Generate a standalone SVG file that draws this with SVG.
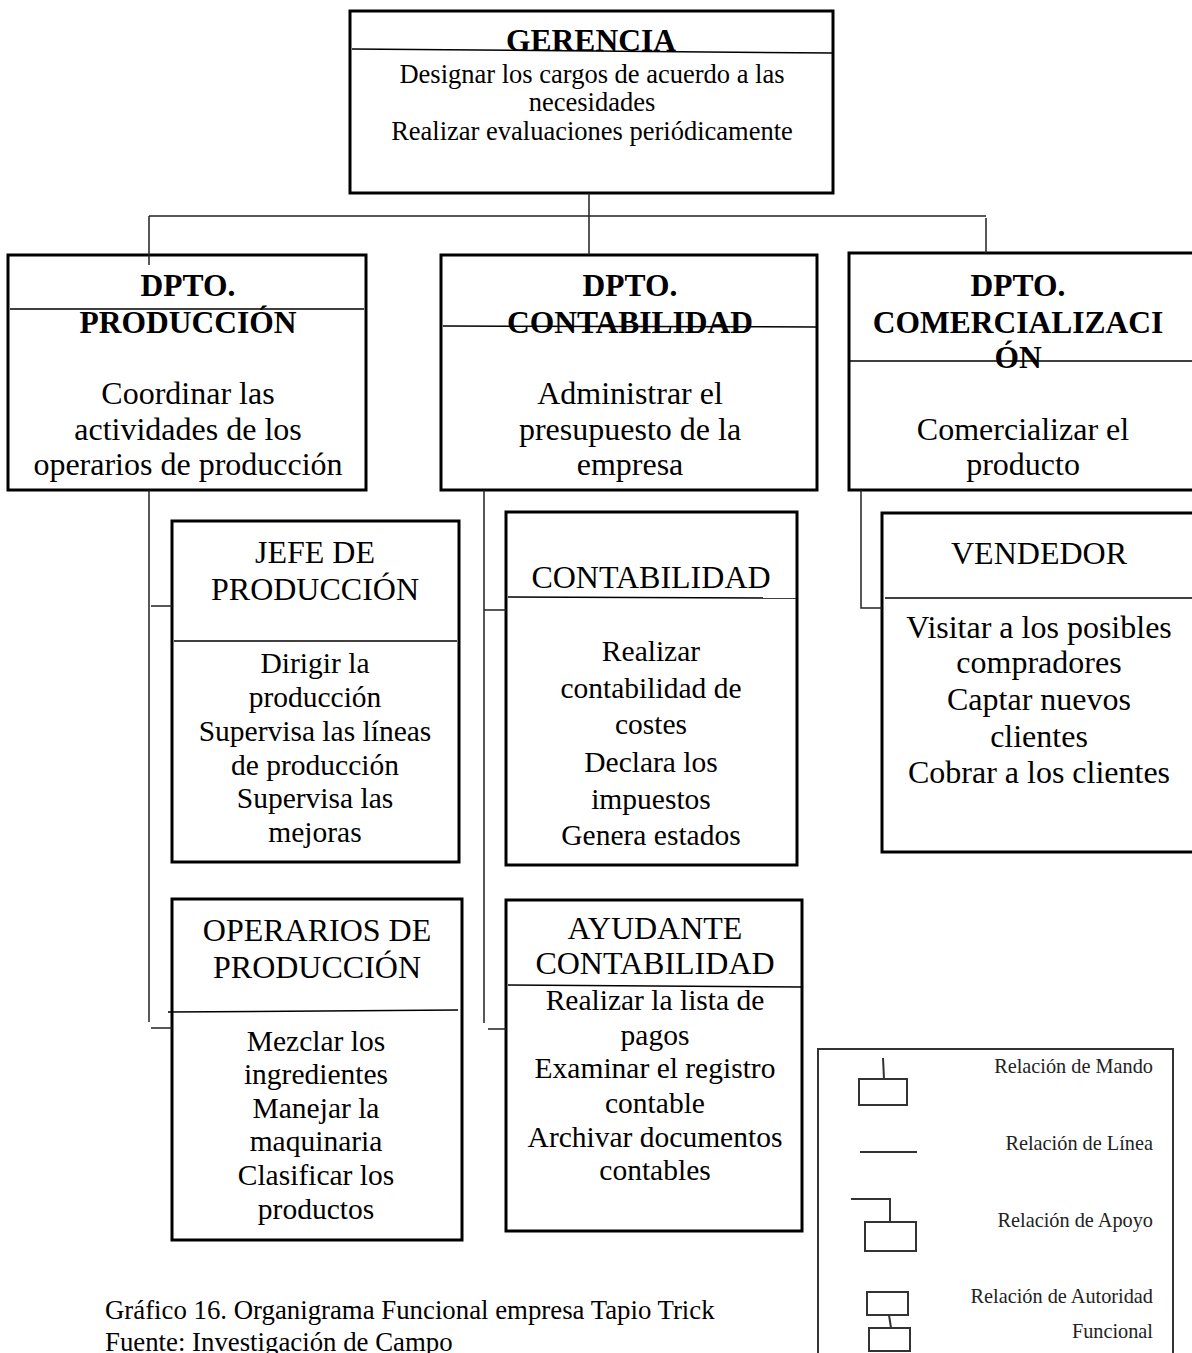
<svg xmlns="http://www.w3.org/2000/svg" width="1192" height="1353" viewBox="0 0 1192 1353">
<style>
.box{fill:#fff;stroke:#000;stroke-width:3}
.dv{stroke:#000;stroke-width:1.5;fill:none}
.conn{stroke:#222;stroke-width:1.5;fill:none}
.lgs{fill:none;stroke:#333;stroke-width:2}
text{font-family:"Liberation Serif","Times New Roman",serif;fill:#000;text-anchor:middle}
.b{font-weight:bold;font-size:31.5px}
.m{font-size:32px}
.s{font-size:29.5px}
.g{font-size:26.5px}
.cap{font-size:26.8px;text-anchor:start}
.lg{font-size:20.3px;text-anchor:end;fill:#222}
</style>
<rect width="1192" height="1353" fill="#fff"/>

<g id="gerencia">
<rect class="box" x="350" y="11" width="483" height="182"/>
<text class="b" x="591" y="51">GERENCIA</text>
<line class="dv" x1="352" y1="49" x2="833" y2="53"/>
<text class="g" x="592" y="83">Designar los cargos de acuerdo a las</text>
<text class="g" x="592" y="111">necesidades</text>
<text class="g" x="592" y="140">Realizar evaluaciones periódicamente</text>
</g>

<g id="dpto-produccion">
<rect class="box" x="8" y="255" width="358" height="235"/>
<line class="dv" x1="10" y1="309" x2="364" y2="309"/>
<text class="b" x="188" y="296">DPTO.</text>
<text class="b" x="188" y="333">PRODUCCIÓN</text>
<text class="m" x="188" y="404">Coordinar las</text>
<text class="m" x="188" y="440">actividades de los</text>
<text class="m" x="188" y="475">operarios de producción</text>
</g>

<g id="dpto-contabilidad">
<rect class="box" x="441" y="255" width="376" height="235"/>
<text class="b" x="630" y="296">DPTO.</text>
<text class="b" x="630" y="333">CONTABILIDAD</text>
<line class="dv" x1="443" y1="326" x2="817" y2="327"/>
<text class="m" x="630" y="404">Administrar el</text>
<text class="m" x="630" y="440">presupuesto de la</text>
<text class="m" x="630" y="475">empresa</text>
</g>

<g id="dpto-comercializacion">
<rect class="box" x="849" y="253" width="360" height="237"/>
<text class="b" x="1018" y="296">DPTO.</text>
<text class="b" x="1018" y="333">COMERCIALIZACI</text>
<text class="b" x="1018" y="368">ÓN</text>
<line class="dv" x1="849" y1="361" x2="1192" y2="361"/>
<text class="m" x="1023" y="440">Comercializar el</text>
<text class="m" x="1023" y="475">producto</text>
</g>

<g id="jefe-produccion">
<rect class="box" x="172" y="521" width="287" height="341"/>
<line class="dv" x1="174" y1="641" x2="457" y2="641"/>
<text class="m" x="315" y="563">JEFE DE</text>
<text class="m" x="315" y="600">PRODUCCIÓN</text>
<text class="s" x="315" y="673">Dirigir la</text>
<text class="s" x="315" y="707">producción</text>
<text class="s" x="315" y="741">Supervisa las líneas</text>
<text class="s" x="315" y="775">de producción</text>
<text class="s" x="315" y="808">Supervisa las</text>
<text class="s" x="315" y="842">mejoras</text>
</g>

<g id="operarios-produccion">
<rect class="box" x="172" y="899" width="290" height="341"/>
<line class="dv" x1="168" y1="1012" x2="458" y2="1010"/>
<text class="m" x="317" y="941">OPERARIOS DE</text>
<text class="m" x="317" y="978">PRODUCCIÓN</text>
<text class="s" x="316" y="1051">Mezclar los</text>
<text class="s" x="316" y="1084">ingredientes</text>
<text class="s" x="316" y="1118">Manejar la</text>
<text class="s" x="316" y="1151">maquinaria</text>
<text class="s" x="316" y="1185">Clasificar los</text>
<text class="s" x="316" y="1219">productos</text>
</g>

<g id="contabilidad">
<rect class="box" x="506" y="512" width="291" height="353"/>
<text class="m" x="651" y="588">CONTABILIDAD</text>
<line class="dv" x1="508" y1="597" x2="797" y2="598"/>
<text class="s" x="651" y="661">Realizar</text>
<text class="s" x="651" y="698">contabilidad de</text>
<text class="s" x="651" y="734">costes</text>
<text class="s" x="651" y="772">Declara los</text>
<text class="s" x="651" y="809">impuestos</text>
<text class="s" x="651" y="845">Genera estados</text>
</g>

<g id="ayudante-contabilidad">
<rect class="box" x="506" y="900" width="296" height="331"/>
<text class="m" x="655" y="939">AYUDANTE</text>
<text class="m" x="655" y="974">CONTABILIDAD</text>
<line class="dv" x1="508" y1="985" x2="802" y2="987"/>
<text class="s" x="655" y="1010">Realizar la lista de</text>
<text class="s" x="655" y="1045">pagos</text>
<text class="s" x="655" y="1078">Examinar el registro</text>
<text class="s" x="655" y="1113">contable</text>
<text class="s" x="655" y="1147">Archivar documentos</text>
<text class="s" x="655" y="1180">contables</text>
</g>

<g id="vendedor">
<rect class="box" x="882" y="513" width="320" height="339"/>
<text class="m" x="1039" y="564">VENDEDOR</text>
<line class="dv" x1="885" y1="598" x2="1192" y2="598"/>
<text class="m" x="1039" y="638">Visitar a los posibles</text>
<text class="m" x="1039" y="673">compradores</text>
<text class="m" x="1039" y="710">Captar nuevos</text>
<text class="m" x="1039" y="747">clientes</text>
<text class="m" x="1039" y="783">Cobrar a los clientes</text>
</g>

<g id="connectors">
<path class="conn" d="M589 193V255M149 216H986M149 216V265M986 218V253"/>
<path class="conn" d="M149 490V1022M151 606H172M151 1028H172"/>
<path class="conn" d="M484 490V1023M484 610H506M488 1029H506"/>
<path class="conn" d="M861 490V608H882"/>
</g>

<g id="legend">
<rect x="818" y="1049" width="355" height="320" fill="none" stroke="#333" stroke-width="2"/>
<path class="lgs" d="M883 1058L884 1079"/>
<rect class="lgs" x="859" y="1079" width="48" height="26"/>
<text class="lg" x="1153" y="1073">Relación de Mando</text>
<path class="lgs" d="M860 1152H917"/>
<text class="lg" x="1153" y="1150">Relación de Línea</text>
<path class="lgs" d="M851 1199H890V1222"/>
<rect class="lgs" x="865" y="1222" width="51" height="29"/>
<text class="lg" x="1153" y="1227">Relación de Apoyo</text>
<rect class="lgs" x="867" y="1292" width="41" height="23"/>
<path class="lgs" d="M889 1315L891 1328"/>
<rect class="lgs" x="869" y="1328" width="41" height="23"/>
<text class="lg" x="1153" y="1303">Relación de Autoridad</text>
<text class="lg" x="1153" y="1338">Funcional</text>
</g>

<g id="caption">
<text class="cap" x="105" y="1319">Gráfico 16. Organigrama Funcional empresa Tapio Trick</text>
<text class="cap" x="105" y="1351">Fuente: Investigación de Campo</text>
</g>
</svg>
